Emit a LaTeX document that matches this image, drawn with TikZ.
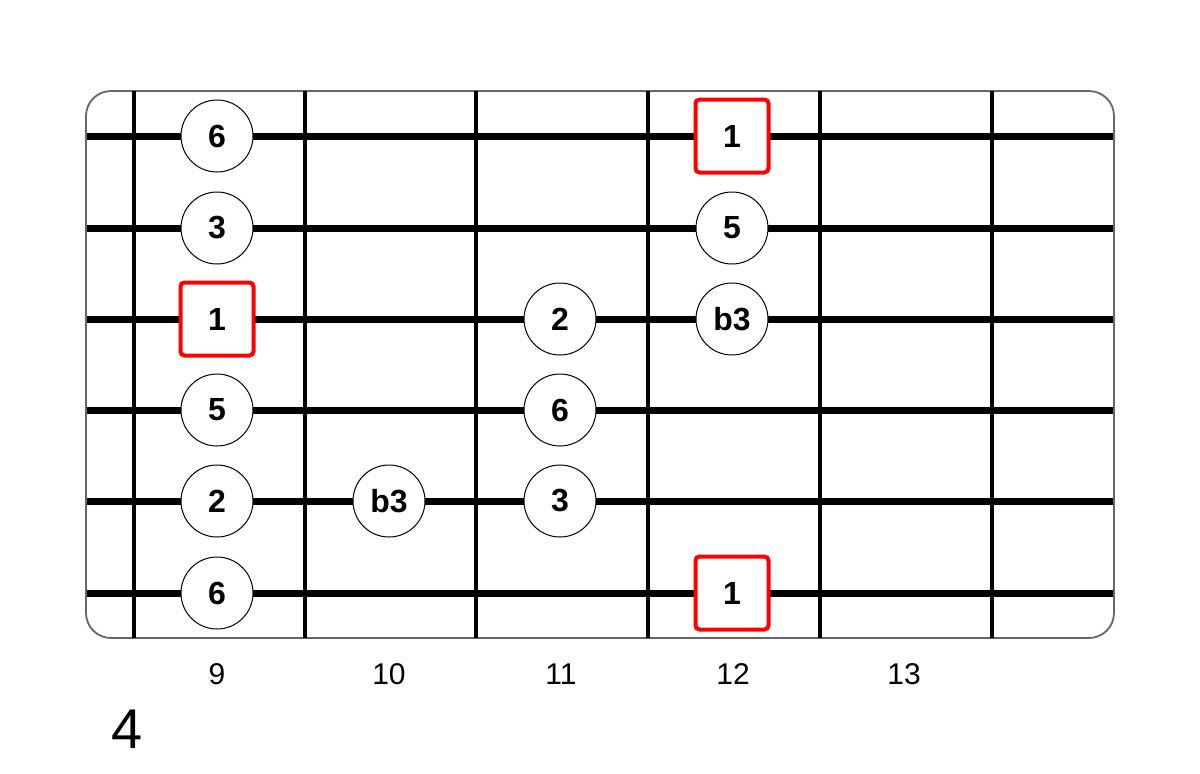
\documentclass[tikz,border=0pt]{standalone}
\usepackage{fontspec}
\setmainfont{Liberation Sans}
\definecolor{bordergray}{HTML}{666666}
\definecolor{rootred}{HTML}{FF0000}
\begin{document}
\begin{tikzpicture}[x=1pt,y=-1pt,
  board/.style={draw=bordergray,line width=1.8pt,fill=white,rounded corners=25pt},
  fretline/.style={draw=black,line width=3.8pt},
  stringline/.style={draw=black,line width=7pt},
  note/.style={circle,draw=black,fill=white,line width=1pt,minimum size=72pt,inner sep=0pt,font=\fontsize{32}{34}\selectfont\bfseries},
  root/.style={rectangle,draw=rootred,fill=white,line width=4pt,rounded corners=4pt,minimum size=73pt,inner sep=0pt,font=\fontsize{32}{34}\selectfont\bfseries},
  fretnum/.style={anchor=base,font=\fontsize{30}{32}\selectfont},
  posnum/.style={anchor=base,font=\fontsize{56}{60}\selectfont}]
\useasboundingbox (0,0) rectangle (1200,774);
\path[board] (86,91) rectangle (1114,638);
% frets
\foreach \x [count=\i] in {134,305,476,648,820,992}{
  \coordinate (ft\i) at (\x,91);
  \coordinate (fb\i) at (\x,638);
  \draw[fretline] (ft\i) -- (fb\i);
}
% strings
\foreach \y [count=\i] in {136,228,319,410,501,593}{
  \coordinate (sl\i) at (87,\y);
  \coordinate (sr\i) at (1113,\y);
  \draw[stringline] (sl\i) -- (sr\i);
}
% notes
\node[note] (n1) at (217,136) {6};
\node[note] (n2) at (217,228) {3};
\node[root] (n3) at (217,319) {1};
\node[note] (n4) at (217,410) {5};
\node[note] (n5) at (217,501) {2};
\node[note] (n6) at (217,593) {6};
\node[note] (n7) at (389,501) {b3};
\node[note] (n8) at (560,319) {2};
\node[note] (n9) at (560,410) {6};
\node[note] (n10) at (560,501) {3};
\node[root] (n11) at (732,136) {1};
\node[note] (n12) at (732,228) {5};
\node[note] (n13) at (732,319) {b3};
\node[root] (n14) at (732,593) {1};
% fret numbers
\node[fretnum] (f9) at (217,684) {9};
\node[fretnum] (f10) at (389,684) {10};
\node[fretnum] (f11) at (561,684) {11};
\node[fretnum] (f12) at (733,684) {12};
\node[fretnum] (f13) at (904,684) {13};
\node[posnum] (pos) at (127,748) {4};
\end{tikzpicture}
\end{document}
